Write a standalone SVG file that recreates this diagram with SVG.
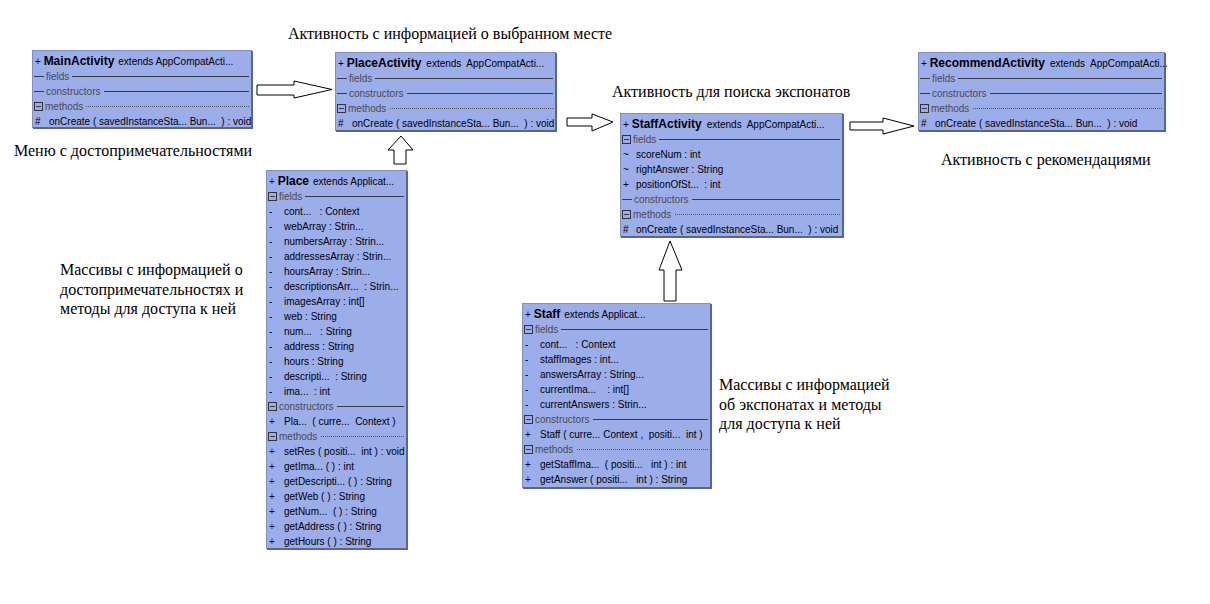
<svg xmlns="http://www.w3.org/2000/svg" width="1210" height="604" viewBox="0 0 1210 604">
<style>
.box{fill:#9CAEE9;stroke:#8090C6;stroke-width:1}
.sh{fill:none;stroke:#56659A;stroke-width:2}
.t{font-family:"Liberation Sans",Arial,sans-serif;font-size:10px;fill:#000;white-space:pre}
.cn{font-weight:bold;font-size:12px}
.sec{font-family:"Liberation Sans",Arial,sans-serif;font-size:10px;fill:#4A4A4A}
.sl{fill:none;stroke:#3A3A3A;stroke-width:1}
.dl{fill:none;stroke:#555;stroke-width:1;stroke-dasharray:1 1}
.sq{fill:none;stroke:#333;stroke-width:1}
.ann{font-family:"Liberation Serif","Times New Roman",serif;font-size:16px;fill:#000}
.ar{fill:#fff;stroke:#000;stroke-width:1}
</style>
<rect width="1210" height="604" fill="#fff"/>

<g id="MainActivity">
<rect class="box" x="32.5" y="50.5" width="219" height="77"/>
<path class="sh" d="M252 51V128H33"/>
<text class="t" x="35" y="64.5">+ <tspan class="cn">MainActivity</tspan><tspan dx="4">extends AppCompatActi...</tspan></text>
<path class="sl" d="M34 76.5H44M72 76.5H249"/><text class="sec" x="46" y="79.5">fields</text>
<path class="sl" d="M34 91.5H44M104 91.5H249"/><text class="sec" x="46" y="94.5">constructors</text>
<rect class="sq" x="34.5" y="102.5" width="8" height="8"/><path class="sl" d="M36 106.5H41"/><text class="sec" x="45" y="109.5">methods</text><path class="dl" d="M86 106.5H249"/>
<text class="t" x="35" y="124.5">#</text><text class="t" x="49" y="124.5">onCreate ( savedInstanceSta... Bun...  ) : void</text>
</g>

<g id="PlaceActivity">
<rect class="box" x="335.5" y="52.5" width="220" height="78"/>
<path class="sh" d="M556 53V131H336"/>
<text class="t" x="338" y="66.5">+ <tspan class="cn">PlaceActivity</tspan><tspan dx="5">extends  AppCompatActi...</tspan></text>
<path class="sl" d="M337 78.5H347M375 78.5H553"/><text class="sec" x="349" y="81.5">fields</text>
<path class="sl" d="M337 93.5H347M407 93.5H553"/><text class="sec" x="349" y="96.5">constructors</text>
<rect class="sq" x="337.5" y="104.5" width="8" height="8"/><path class="sl" d="M339 108.5H344"/><text class="sec" x="348" y="111.5">methods</text><path class="dl" d="M390 108.5H553"/>
<text class="t" x="338" y="126.5">#</text><text class="t" x="352" y="126.5">onCreate ( savedInstanceSta... Bun...  ) : void</text>
</g>

<g id="RecommendActivity">
<rect class="box" x="918.5" y="52.5" width="246" height="78"/>
<path class="sh" d="M1165 53V131H919"/>
<text class="t" x="921" y="66.5">+ <tspan class="cn">RecommendActivity</tspan><tspan dx="5">extends  AppCompatActi...</tspan></text>
<path class="sl" d="M920 78.5H930M958 78.5H1162"/><text class="sec" x="932" y="81.5">fields</text>
<path class="sl" d="M920 93.5H930M990 93.5H1162"/><text class="sec" x="932" y="96.5">constructors</text>
<rect class="sq" x="920.5" y="104.5" width="8" height="8"/><path class="sl" d="M922 108.5H927"/><text class="sec" x="931" y="111.5">methods</text><path class="dl" d="M973 108.5H1162"/>
<text class="t" x="921" y="126.5">#</text><text class="t" x="935" y="126.5">onCreate ( savedInstanceSta... Bun...  ) : void</text>
</g>

<g id="StaffActivity">
<rect class="box" x="620.5" y="113.5" width="222" height="123"/>
<path class="sh" d="M843 114V237H621"/>
<text class="t" x="623" y="127.5">+ <tspan class="cn">StaffActivity</tspan><tspan dx="5">extends  AppCompatActi...</tspan></text>
<rect class="sq" x="622.5" y="135.5" width="8" height="8"/><path class="sl" d="M624 139.5H629"/><text class="sec" x="633" y="142.5">fields</text><path class="sl" d="M659 139.5H840"/>
<text class="t" x="623" y="157.5">~</text><text class="t" x="636" y="157.5">scoreNum : int</text>
<text class="t" x="623" y="172.5">~</text><text class="t" x="636" y="172.5">rightAnswer : String</text>
<text class="t" x="623" y="187.5">+</text><text class="t" x="636" y="187.5">positionOfSt...  : int</text>
<path class="sl" d="M622 199.5H632M692 199.5H840"/><text class="sec" x="634" y="202.5">constructors</text>
<rect class="sq" x="622.5" y="210.5" width="8" height="8"/><path class="sl" d="M624 214.5H629"/><text class="sec" x="633" y="217.5">methods</text><path class="dl" d="M675 214.5H840"/>
<text class="t" x="623" y="232.5">#</text><text class="t" x="636" y="232.5">onCreate ( savedInstanceSta... Bun...  ) : void</text>
</g>

<g id="Place">
<rect class="box" x="266.5" y="170.5" width="140" height="378"/>
<path class="sh" d="M407 171V549H267"/>
<text class="t" x="269" y="184.5">+ <tspan class="cn">Place</tspan><tspan dx="4">extends Applicat...</tspan></text>
<rect class="sq" x="268.5" y="192.5" width="8" height="8"/><path class="sl" d="M270 196.5H275"/><text class="sec" x="279" y="199.5">fields</text><path class="sl" d="M305 196.5H404"/>
<text class="t" x="269" y="214.5">-</text><text class="t" x="284" y="214.5">cont...   : Context</text>
<text class="t" x="269" y="229.5">-</text><text class="t" x="284" y="229.5">webArray : Strin...</text>
<text class="t" x="269" y="244.5">-</text><text class="t" x="284" y="244.5">numbersArray : Strin...</text>
<text class="t" x="269" y="259.5">-</text><text class="t" x="284" y="259.5">addressesArray : Strin...</text>
<text class="t" x="269" y="274.5">-</text><text class="t" x="284" y="274.5">hoursArray : Strin...</text>
<text class="t" x="269" y="289.5">-</text><text class="t" x="284" y="289.5">descriptionsArr...  : Strin...</text>
<text class="t" x="269" y="304.5">-</text><text class="t" x="284" y="304.5">imagesArray : int[]</text>
<text class="t" x="269" y="319.5">-</text><text class="t" x="284" y="319.5">web : String</text>
<text class="t" x="269" y="334.5">-</text><text class="t" x="284" y="334.5">num...   : String</text>
<text class="t" x="269" y="349.5">-</text><text class="t" x="284" y="349.5">address : String</text>
<text class="t" x="269" y="364.5">-</text><text class="t" x="284" y="364.5">hours : String</text>
<text class="t" x="269" y="379.5">-</text><text class="t" x="284" y="379.5">descripti...  : String</text>
<text class="t" x="269" y="394.5">-</text><text class="t" x="284" y="394.5">ima...  : int</text>
<rect class="sq" x="268.5" y="402.5" width="8" height="8"/><path class="sl" d="M270 406.5H275"/><text class="sec" x="279" y="409.5">constructors</text><path class="sl" d="M337 406.5H404"/>
<text class="t" x="269" y="424.5">+</text><text class="t" x="284" y="424.5">Pla...  ( curre...  Context )</text>
<rect class="sq" x="268.5" y="432.5" width="8" height="8"/><path class="sl" d="M270 436.5H275"/><text class="sec" x="279" y="439.5">methods</text><path class="dl" d="M321 436.5H404"/>
<text class="t" x="269" y="454.5">+</text><text class="t" x="284" y="454.5">setRes ( positi...  int ) : void</text>
<text class="t" x="269" y="469.5">+</text><text class="t" x="284" y="469.5">getIma... ( ) : int</text>
<text class="t" x="269" y="484.5">+</text><text class="t" x="284" y="484.5">getDescripti... ( ) : String</text>
<text class="t" x="269" y="499.5">+</text><text class="t" x="284" y="499.5">getWeb ( ) : String</text>
<text class="t" x="269" y="514.5">+</text><text class="t" x="284" y="514.5">getNum...  ( ) : String</text>
<text class="t" x="269" y="529.5">+</text><text class="t" x="284" y="529.5">getAddress ( ) : String</text>
<text class="t" x="269" y="544.5">+</text><text class="t" x="284" y="544.5">getHours ( ) : String</text>
</g>

<g id="Staff">
<rect class="box" x="522.5" y="303.5" width="188" height="184"/>
<path class="sh" d="M711 304V488H523"/>
<text class="t" x="525" y="317.5">+ <tspan class="cn">Staff</tspan><tspan dx="4">extends Applicat...</tspan></text>
<rect class="sq" x="524.5" y="325.5" width="8" height="8"/><path class="sl" d="M526 329.5H531"/><text class="sec" x="535" y="332.5">fields</text><path class="sl" d="M561 329.5H708"/>
<text class="t" x="525" y="347.5">-</text><text class="t" x="540" y="347.5">cont...   : Context</text>
<text class="t" x="525" y="362.5">-</text><text class="t" x="540" y="362.5">staffImages : int...</text>
<text class="t" x="525" y="377.5">-</text><text class="t" x="540" y="377.5">answersArray : String...</text>
<text class="t" x="525" y="392.5">-</text><text class="t" x="540" y="392.5">currentIma...    : int[]</text>
<text class="t" x="525" y="407.5">-</text><text class="t" x="540" y="407.5">currentAnswers : Strin...</text>
<rect class="sq" x="524.5" y="415.5" width="8" height="8"/><path class="sl" d="M526 419.5H531"/><text class="sec" x="535" y="422.5">constructors</text><path class="sl" d="M593 419.5H708"/>
<text class="t" x="525" y="437.5">+</text><text class="t" x="540" y="437.5">Staff ( curre... Context ,  positi...  int )</text>
<rect class="sq" x="524.5" y="445.5" width="8" height="8"/><path class="sl" d="M526 449.5H531"/><text class="sec" x="535" y="452.5">methods</text><path class="dl" d="M577 449.5H708"/>
<text class="t" x="525" y="467.5">+</text><text class="t" x="540" y="467.5">getStaffIma...  ( positi...   int ) : int</text>
<text class="t" x="525" y="482.5">+</text><text class="t" x="540" y="482.5">getAnswer ( positi...   int ) : String</text>
</g>

<g id="connectors">
<polygon class="ar" points="257,85 294,85 294,81 332,89.5 294,98 294,95 257,95"/>
<polygon class="ar" points="394,164 394,150 388,150 401,136 413,150 406,150 406,164"/>
<polygon class="ar" points="567,118 592,118 592,114 613,122 592,131 592,126 567,126"/>
<polygon class="ar" points="664,301 664,270 659,270 670,241 682,270 676,270 676,301"/>
<polygon class="ar" points="850,122 883,122 883,118 914,126 883,134 883,130 850,130"/>
</g>

<g id="annotations">
<text class="ann" x="288" y="39">Активность с информацией о выбранном месте</text>
<text class="ann" x="14" y="156">Меню с достопримечательностями</text>
<text class="ann" x="612" y="97">Активность для поиска экспонатов</text>
<text class="ann" x="941" y="165">Активность с рекомендациями</text>
<text class="ann" x="60" y="275">Массивы с информацией о</text>
<text class="ann" x="60" y="295">достопримечательностях и</text>
<text class="ann" x="60" y="314">методы для доступа к ней</text>
<text class="ann" x="719" y="390">Массивы с информацией</text>
<text class="ann" x="719" y="410">об экспонатах и методы</text>
<text class="ann" x="719" y="429">для доступа к ней</text>
</g>
</svg>
